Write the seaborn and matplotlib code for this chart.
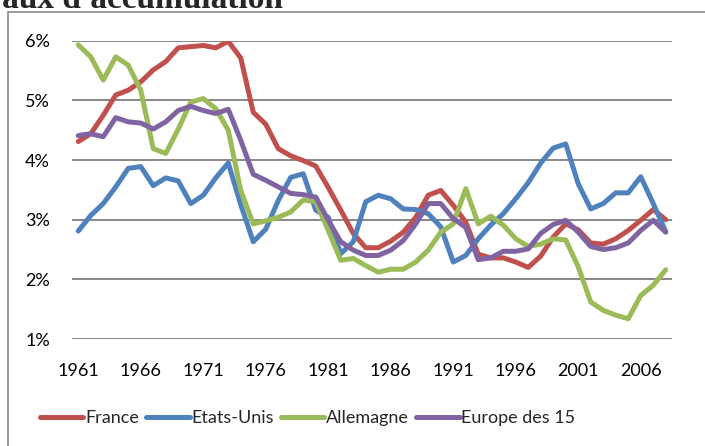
import numpy as np
import pandas as pd
import seaborn as sns
import matplotlib
import matplotlib.pyplot as plt
from matplotlib.lines import Line2D

sns.set_style("white")
plt.rcParams['font.family'] = ['Lato', 'DejaVu Sans']

years = list(range(1961, 2009))

france = [4.31, 4.44, 4.75, 5.09, 5.17, 5.31, 5.51, 5.65, 5.88, 5.90,
          5.92, 5.88, 5.99, 5.71, 4.80, 4.60, 4.19, 4.07, 3.99, 3.90,
          3.54, 3.16, 2.77, 2.53, 2.53, 2.64, 2.79, 3.04, 3.41, 3.49,
          3.24, 2.96, 2.42, 2.36, 2.36, 2.29, 2.20, 2.39, 2.71, 2.93,
          2.83, 2.61, 2.59, 2.68, 2.82, 2.99, 3.17, 3.00]
etats_unis = [2.81, 3.07, 3.27, 3.55, 3.86, 3.89, 3.57, 3.70, 3.65, 3.27,
              3.41, 3.70, 3.95, 3.25, 2.63, 2.84, 3.32, 3.71, 3.77, 3.16,
              3.04, 2.43, 2.63, 3.30, 3.41, 3.35, 3.18, 3.17, 3.10, 2.88,
              2.29, 2.40, 2.68, 2.91, 3.10, 3.35, 3.62, 3.95, 4.20, 4.27,
              3.60, 3.18, 3.27, 3.45, 3.45, 3.72, 3.27, 2.80]
allemagne = [5.93, 5.73, 5.34, 5.73, 5.59, 5.17, 4.19, 4.11, 4.52, 4.97,
             5.03, 4.86, 4.50, 3.49, 2.93, 2.98, 3.04, 3.13, 3.33, 3.30,
             2.82, 2.32, 2.35, 2.23, 2.12, 2.17, 2.17, 2.29, 2.49, 2.79,
             2.93, 3.52, 2.93, 3.06, 2.91, 2.68, 2.55, 2.59, 2.68, 2.66,
             2.21, 1.62, 1.48, 1.40, 1.34, 1.73, 1.90, 2.16]
europe15 = [4.41, 4.44, 4.39, 4.71, 4.64, 4.62, 4.52, 4.64, 4.83, 4.90,
            4.83, 4.78, 4.85, 4.33, 3.76, 3.66, 3.55, 3.44, 3.42, 3.38,
            2.99, 2.63, 2.49, 2.40, 2.40, 2.49, 2.65, 2.93, 3.27, 3.27,
            3.02, 2.87, 2.33, 2.36, 2.47, 2.47, 2.51, 2.77, 2.92, 2.99,
            2.79, 2.55, 2.50, 2.53, 2.61, 2.82, 2.99, 2.79]

series = ["France", "Etats-Unis", "Allemagne", "Europe des 15"]
colors = ["#C0504D", "#4F81BD", "#9BBB59", "#8064A2"]
xticks = list(range(1961, 2007, 5))
yticks = [1, 2, 3, 4, 5, 6]

df = pd.DataFrame({
    "annee": years * 4,
    "taux": france + etats_unis + allemagne + europe15,
    "pays": sum([[s] * len(years) for s in series], []),
})

fig = plt.figure(figsize=(7.05, 4.46), dpi=100)
ax = fig.add_axes([72 / 705, 107 / 446, 600 / 705, 298.3 / 446])

sns.lineplot(data=df, x="annee", y="taux", hue="pays", hue_order=series,
             palette=colors, linewidth=3.6, ax=ax, legend=False)

ax.set_xlim(1960.5, 2008.5)
ax.set_ylim(1, 6)
ax.set_xticks(xticks)
ax.set_xticklabels([str(y) for y in xticks])
ax.set_yticks(yticks)
ax.set_yticklabels([f"{y}%" for y in yticks])
ax.set_xlabel("")
ax.set_ylabel("")
ax.tick_params(axis="both", length=0, labelsize=13, colors="black")
ax.tick_params(axis="x", pad=17)
ax.tick_params(axis="y", pad=16)
for s in ax.spines.values():
    s.set_visible(False)
ax.grid(False)
for y in yticks:
    ax.axhline(y, color="#878787", linewidth=1.4, zorder=0)

# cadre du graphique
fig.add_artist(Line2D([8 / 705, 8 / 705], [0, 1 - 12 / 446], color="#8a8a8a", linewidth=1.2))
fig.add_artist(Line2D([8 / 705, 1], [1 - 12 / 446, 1 - 12 / 446], color="#8a8a8a", linewidth=1.2))

# titre coupé en haut (comme dans l'original)
fig.text(283 / 705, 1 - 8 / 446, "Taux d'accumulation", ha="right", va="baseline",
         fontsize=24, fontweight="bold", family=["Liberation Serif", "DejaVu Serif"])

handles = [Line2D([], [], color=c, linewidth=3.6) for c in colors]
fig.legend(handles, series, loc="center left", bbox_to_anchor=(40 / 705, 1 - 418 / 446),
           ncol=4, frameon=False, fontsize=13, handlelength=2.4, handletextpad=0.1,
           columnspacing=0.4, borderpad=0, borderaxespad=0)

fig.savefig("out.png", dpi=100)
